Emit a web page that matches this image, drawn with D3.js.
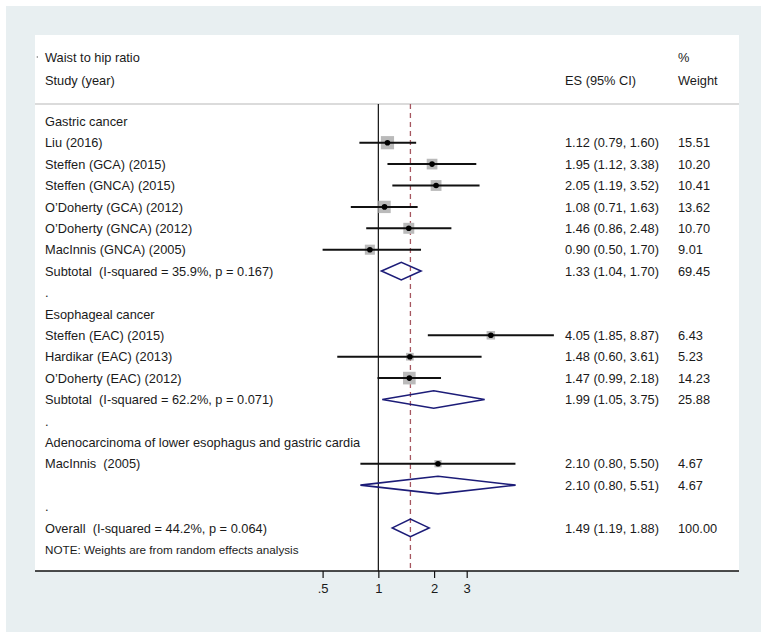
<!DOCTYPE html>
<html>
<head>
<meta charset="utf-8">
<script src="https://cdn.jsdelivr.net/npm/d3@7"></script>
<style>
  html, body { margin: 0; padding: 0; background: #ffffff; }
  svg { display: block; font-family: "Liberation Sans", Arial, Helvetica, sans-serif; }
  text { white-space: pre; fill: #1a1a1a; }
</style>
</head>
<body>
<svg id="chart" width="767" height="639"></svg>
<script>
// ---------- data ----------
const headerTitle = "Waist to hip ratio";
const headerStudy = "Study (year)";
const headerES = "ES (95% CI)";
const headerPct = "%";
const headerWeight = "Weight";
const noteText = "NOTE: Weights are from random effects analysis";

const rowLabels = [
  "Gastric cancer",
  "Liu (2016)",
  "Steffen (GCA) (2015)",
  "Steffen (GNCA) (2015)",
  "O\u2019Doherty (GCA) (2012)",
  "O\u2019Doherty (GNCA) (2012)",
  "MacInnis (GNCA) (2005)",
  "Subtotal  (I-squared = 35.9%, p = 0.167)",
  ".",
  "Esophageal cancer",
  "Steffen (EAC) (2015)",
  "Hardikar (EAC) (2013)",
  "O\u2019Doherty (EAC) (2012)",
  "Subtotal  (I-squared = 62.2%, p = 0.071)",
  ".",
  "Adenocarcinoma of lower esophagus and gastric cardia",
  "MacInnis  (2005)",
  "",
  ".",
  "Overall  (I-squared = 44.2%, p = 0.064)"
];
const rowTypes = ["head","study","study","study","study","study","study","pooled","blank",
                  "head","study","study","study","pooled","blank",
                  "head","study","pooled","blank","pooled"];
const esValues  = [null,1.12,1.95,2.05,1.08,1.46,0.90,1.33,null,null,4.05,1.48,1.47,1.99,null,null,2.10,2.10,null,1.49];
const loValues  = [null,0.79,1.12,1.19,0.71,0.86,0.50,1.04,null,null,1.85,0.60,0.99,1.05,null,null,0.80,0.80,null,1.19];
const hiValues  = [null,1.60,3.38,3.52,1.63,2.48,1.70,1.70,null,null,8.87,3.61,2.18,3.75,null,null,5.50,5.51,null,1.88];
const weightValues = [null,15.51,10.20,10.41,13.62,10.70,9.01,69.45,null,null,6.43,5.23,14.23,25.88,null,null,4.67,4.67,null,100.00];

const tickValues = [0.5, 1, 2, 3];
const tickLabels = [".5", "1", "2", "3"];
const overallES = 1.49;

// ---------- layout ----------
const svg = d3.select("#chart");
const W = 767, H = 639;
const outer = {x0: 6, y0: 6, x1: 761, y1: 632};
const plot = {x0: 35, y0: 35, x1: 739, y1: 571};
const sepY = 104;
const textX = 45, esX = 565, wX = 678;
const fs = 12.8;

svg.append("rect").attr("x", outer.x0).attr("y", outer.y0)
  .attr("width", outer.x1 - outer.x0).attr("height", outer.y1 - outer.y0)
  .attr("fill", "#e8eff1");
svg.append("rect").attr("x", plot.x0).attr("y", plot.y0)
  .attr("width", plot.x1 - plot.x0).attr("height", plot.y1 - plot.y0)
  .attr("fill", "#ffffff");

const x = d3.scaleLog().domain([0.5, 3]).range([322.6, 466.7]);
const nRows = rowLabels.length;
const y = d3.scaleLinear().domain([0, nRows]).range([121.3, 121.3 + 21.4 * nRows]);
const fmt = d3.format(".2f");

// header
svg.append("circle").attr("cx", 37.3).attr("cy", 57).attr("r", 0.7).attr("fill", "#666");
const hdr = [
  {t: headerTitle, x: textX, y: 57},
  {t: headerPct, x: wX, y: 57},
  {t: headerStudy, x: textX, y: 80},
  {t: headerES, x: esX, y: 80},
  {t: headerWeight, x: wX, y: 80}
];
svg.selectAll("text.hdr").data(hdr).join("text").attr("class", "hdr")
  .attr("x", d => d.x).attr("y", d => d.y).attr("dy", "0.36em")
  .attr("font-size", fs).text(d => d.t);

svg.append("line").attr("x1", plot.x0).attr("x2", plot.x1).attr("y1", sepY).attr("y2", sepY)
  .attr("stroke", "#cfcfcf").attr("stroke-width", 1.6);

// reference lines
svg.append("line").attr("x1", x(1)).attr("x2", x(1)).attr("y1", sepY).attr("y2", plot.y1)
  .attr("stroke", "#111").attr("stroke-width", 1.2);
svg.append("line").attr("x1", x(overallES)).attr("x2", x(overallES)).attr("y1", sepY).attr("y2", plot.y1)
  .attr("stroke", "#a65660").attr("stroke-width", 1.3).attr("stroke-dasharray", "5,4");

const rows = rowLabels.map((label, i) => ({
  i, label, type: rowTypes[i], es: esValues[i], lo: loValues[i], hi: hiValues[i], w: weightValues[i]
}));

// labels
svg.selectAll("text.lab").data(rows).join("text").attr("class", "lab")
  .attr("x", textX).attr("y", d => y(d.i)).attr("dy", "0.36em")
  .attr("font-size", fs).text(d => d.label);

const valued = rows.filter(d => d.es !== null);
svg.selectAll("text.es").data(valued).join("text").attr("class", "es")
  .attr("x", esX).attr("y", d => y(d.i)).attr("dy", "0.36em").attr("font-size", fs)
  .text(d => `${fmt(d.es)} (${fmt(d.lo)}, ${fmt(d.hi)})`);
svg.selectAll("text.wt").data(valued).join("text").attr("class", "wt")
  .attr("x", wX).attr("y", d => y(d.i)).attr("dy", "0.36em").attr("font-size", fs)
  .text(d => fmt(d.w));

// studies
const studies = rows.filter(d => d.type === "study");
svg.selectAll("rect.box").data(studies).join("rect").attr("class", "box")
  .attr("x", d => x(d.es) - 3.35 * Math.sqrt(d.w) / 2)
  .attr("y", d => y(d.i) - 3.35 * Math.sqrt(d.w) / 2)
  .attr("width", d => 3.35 * Math.sqrt(d.w))
  .attr("height", d => 3.35 * Math.sqrt(d.w))
  .attr("fill", "#bababa");
svg.selectAll("line.ci").data(studies).join("line").attr("class", "ci")
  .attr("x1", d => x(d.lo)).attr("x2", d => x(d.hi))
  .attr("y1", d => y(d.i)).attr("y2", d => y(d.i))
  .attr("stroke", "#111").attr("stroke-width", 2);
svg.selectAll("circle.pt").data(studies).join("circle").attr("class", "pt")
  .attr("cx", d => x(d.es)).attr("cy", d => y(d.i)).attr("r", 2.8).attr("fill", "#000");

// pooled diamonds
const pooled = rows.filter(d => d.type === "pooled");
svg.selectAll("path.dia").data(pooled).join("path").attr("class", "dia")
  .attr("d", d => {
    const cy = y(d.i), h = 8.8;
    return `M${x(d.lo)},${cy}L${x(d.es)},${cy - h}L${x(d.hi)},${cy}L${x(d.es)},${cy + h}Z`;
  })
  .attr("fill", "none").attr("stroke", "#1c1c78").attr("stroke-width", 1.6);

// note
svg.append("text").attr("x", textX).attr("y", y(nRows)).attr("dy", "0.36em")
  .attr("font-size", 11.7).text(noteText);

// axis
svg.append("line").attr("x1", plot.x0).attr("x2", plot.x1).attr("y1", plot.y1).attr("y2", plot.y1)
  .attr("stroke", "#111").attr("stroke-width", 1.4);
const axis = d3.axisBottom(x).tickValues(tickValues)
  .tickFormat((d, i) => tickLabels[i]).tickSize(7).tickPadding(6);
const ag = svg.append("g").attr("transform", `translate(0,${plot.y1})`).call(axis);
ag.select(".domain").remove();
ag.selectAll(".tick line").attr("stroke", "#111").attr("stroke-width", 1.2);
ag.selectAll(".tick text").attr("font-size", 13).attr("fill", "#1a1a1a")
  .attr("font-family", "'Liberation Sans', Arial, sans-serif");
</script>
</body>
</html>
